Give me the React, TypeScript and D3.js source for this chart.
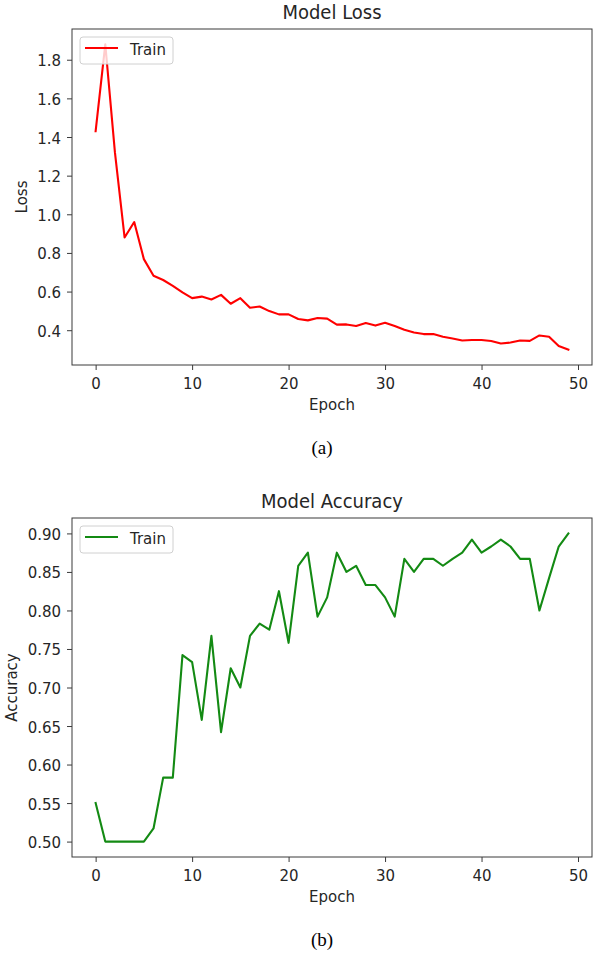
import React, { useEffect, useRef } from "react";
import * as d3 from "d3";

// training history
const epochs = d3.range(0, 50);

const lossValues = [
  1.43, 1.88, 1.32, 0.88, 0.96, 0.768, 0.682, 0.66, 0.63, 0.596,
  0.566, 0.574, 0.559, 0.583, 0.537, 0.566, 0.516, 0.523, 0.499, 0.482,
  0.482, 0.458, 0.451, 0.463, 0.46, 0.429, 0.43, 0.422, 0.437, 0.424,
  0.439, 0.422, 0.402, 0.388, 0.38, 0.38, 0.366, 0.357, 0.347, 0.349,
  0.349, 0.344, 0.331, 0.336, 0.347, 0.345, 0.373, 0.366, 0.318, 0.299,
];

const accuracyValues = [
  0.55, 0.5, 0.5, 0.5, 0.5, 0.5, 0.517, 0.583, 0.583, 0.742,
  0.733, 0.658, 0.767, 0.642, 0.725, 0.7, 0.767, 0.783, 0.775, 0.825,
  0.758, 0.858, 0.875, 0.792, 0.817, 0.875, 0.85, 0.858, 0.833, 0.833,
  0.817, 0.792, 0.867, 0.85, 0.867, 0.867, 0.858, 0.867, 0.875, 0.892,
  0.875, 0.883, 0.892, 0.883, 0.867, 0.867, 0.8, 0.842, 0.883, 0.9,
];

const xTicks = [0, 10, 20, 30, 40, 50];
const lossTicks = [0.4, 0.6, 0.8, 1.0, 1.2, 1.4, 1.6, 1.8];
const accuracyTicks = [0.5, 0.55, 0.6, 0.65, 0.7, 0.75, 0.8, 0.85, 0.9];

const W = 600;
const H = 954;
const font = "DejaVu Sans, sans-serif";
const ink = "#262626";
const spine = "#3a3a3a";
// the figure's glyphs are a bit taller than wide
const K = 1.1;

type Panel = {
  top: number;
  bottom: number;
  title: string;
  yLabel: string;
  yLabelX: number;
  values: number[];
  yTicks: number[];
  yFormat: (v: number) => string;
  color: string;
  caption: string;
};

type Sel = d3.Selection<any, any, any, any>;

function padded(values: number[]): [number, number] {
  // matplotlib-style 5% margins
  const [lo, hi] = d3.extent(values) as [number, number];
  const pad = (hi - lo) * 0.05;
  return [lo - pad, hi + pad];
}

function label(g: Sel, x: number, baseline: number, text: string, size: number, anchor = "middle") {
  return g
    .append("text")
    .attr("transform", `translate(${x}, ${baseline}) scale(1, ${K})`)
    .attr("text-anchor", anchor)
    .attr("fill", ink)
    .style("font-family", font)
    .style("font-size", `${size}px`)
    .text(text);
}

function drawPanel(root: Sel, p: Panel) {
  const left = 72;
  const right = 592;

  const x = d3
    .scaleLinear()
    .domain(padded([0, 49]))
    .range([left, right]);
  const y = d3.scaleLinear().domain(padded(p.values)).range([p.bottom, p.top]);

  const g = root.append("g");

  // data line first, legend sits on top of it
  const line = d3
    .line<number>()
    .x((_, i) => x(epochs[i]))
    .y((d) => y(d));
  g.append("path")
    .datum(p.values)
    .attr("d", line)
    .attr("fill", "none")
    .attr("stroke", p.color)
    .attr("stroke-width", 2.1)
    .attr("stroke-linejoin", "round")
    .attr("stroke-linecap", "square");

  // frame
  g.append("rect")
    .attr("x", left)
    .attr("y", p.top)
    .attr("width", right - left)
    .attr("height", p.bottom - p.top)
    .attr("fill", "none")
    .attr("stroke", spine)
    .attr("stroke-width", 1);

  // x axis
  const xAxis = g
    .append("g")
    .attr("transform", `translate(0, ${p.bottom})`)
    .call(d3.axisBottom(x).tickValues(xTicks).tickSize(5).tickFormat(d3.format("d")));
  xAxis.select(".domain").remove();
  xAxis
    .selectAll("text")
    .attr("y", 24 / K)
    .attr("dy", null)
    .attr("transform", `scale(1, ${K})`);

  // y axis
  const yAxis = g
    .append("g")
    .attr("transform", `translate(${left}, 0)`)
    .call(d3.axisLeft(y).tickValues(p.yTicks).tickSize(5).tickFormat((d) => p.yFormat(d as number)));
  yAxis.select(".domain").remove();
  yAxis
    .selectAll("text")
    .attr("x", -11)
    .attr("y", 6 / K)
    .attr("dy", null)
    .attr("transform", `scale(1, ${K})`);

  [xAxis, yAxis].forEach((a) => {
    a.selectAll("line").attr("stroke", spine).attr("stroke-width", 1);
    a.selectAll("text").attr("fill", ink).style("font-family", font).style("font-size", "15px");
  });

  // title and axis labels
  label(g, (left + right) / 2, p.top - 10.5, p.title, 18);
  label(g, (left + right) / 2, p.bottom + 45, "Epoch", 15);
  g.append("text")
    .attr("transform", `translate(${p.yLabelX}, ${(p.top + p.bottom) / 2}) rotate(-90) scale(1, ${K})`)
    .attr("text-anchor", "middle")
    .attr("fill", ink)
    .style("font-family", font)
    .style("font-size", "15px")
    .text(p.yLabel);

  // legend
  const lg = g.append("g").attr("transform", `translate(${left + 8}, ${p.top + 8})`);
  lg.append("rect")
    .attr("width", 93)
    .attr("height", 27)
    .attr("rx", 3)
    .attr("fill", "white")
    .attr("fill-opacity", 0.8)
    .attr("stroke", "#d0d0d0")
    .attr("stroke-width", 1);
  lg.append("line")
    .attr("x1", 5)
    .attr("x2", 38)
    .attr("y1", 11)
    .attr("y2", 11)
    .attr("stroke", p.color)
    .attr("stroke-width", 2.1);
  label(lg, 50, 18, "Train", 15, "start");

  // sub-figure caption
  g.append("text")
    .attr("x", 322)
    .attr("y", p.bottom + 89)
    .attr("text-anchor", "middle")
    .attr("fill", "#000")
    .style("font-family", "Liberation Serif, serif")
    .style("font-size", "19px")
    .text(p.caption);
}

export default function App() {
  const ref = useRef<SVGSVGElement>(null);

  useEffect(() => {
    const svg = d3.select(ref.current!);
    svg.selectAll("*").remove();
    svg.append("rect").attr("width", W).attr("height", H).attr("fill", "white");

    drawPanel(svg, {
      top: 29,
      bottom: 365,
      title: "Model Loss",
      yLabel: "Loss",
      yLabelX: 27,
      values: lossValues,
      yTicks: lossTicks,
      yFormat: d3.format(".1f"),
      color: "#ff0000",
      caption: "(a)",
    });

    drawPanel(svg, {
      top: 518,
      bottom: 857,
      title: "Model Accuracy",
      yLabel: "Accuracy",
      yLabelX: 17,
      values: accuracyValues,
      yTicks: accuracyTicks,
      yFormat: d3.format(".2f"),
      color: "#138a13",
      caption: "(b)",
    });
  }, []);

  return (
    <svg
      ref={ref}
      width={W}
      height={H}
      style={{ position: "absolute", left: 0, top: 0, display: "block" }}
    />
  );
}
